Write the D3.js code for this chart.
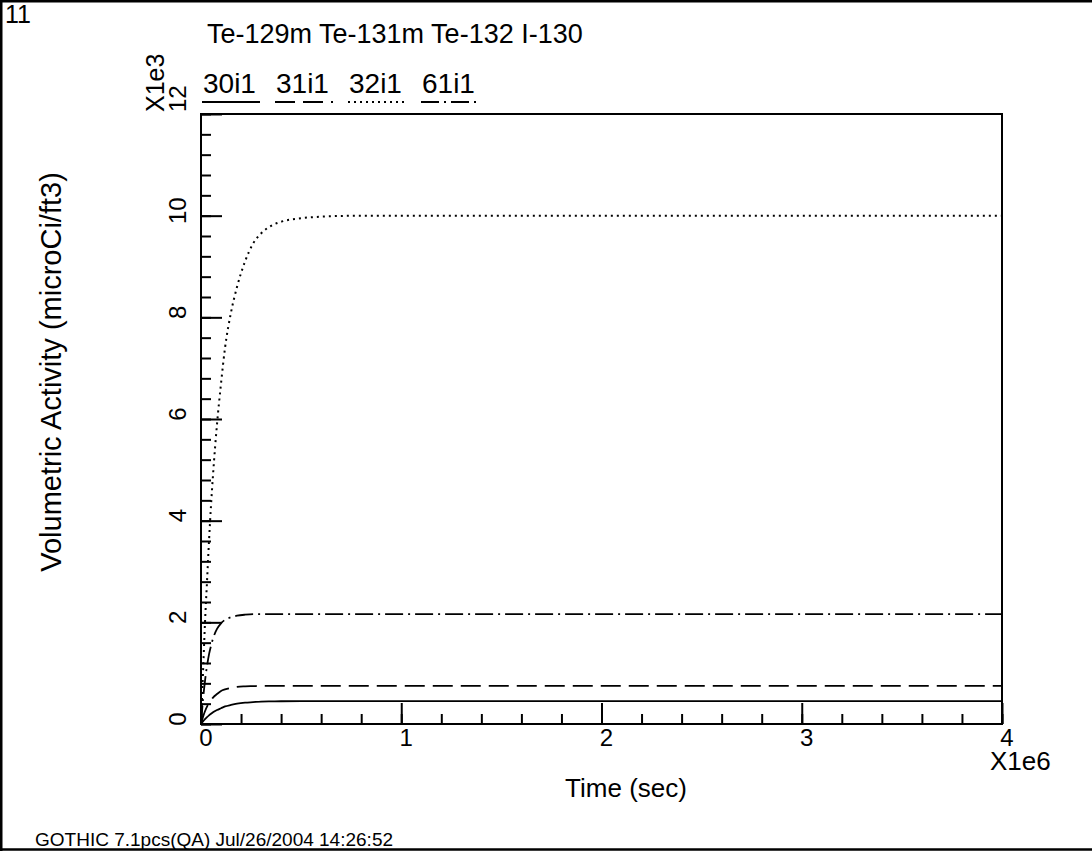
<!DOCTYPE html>
<html>
<head>
<meta charset="utf-8">
<script src="https://cdn.jsdelivr.net/npm/d3@7"></script>
<style>
  html, body { margin: 0; padding: 0; background: #fff; }
  svg { display: block; }
  text { font-family: "Liberation Sans", Arial, sans-serif; fill: #000; }
</style>
</head>
<body>
<svg id="chart" width="1092" height="851"></svg>
<script>
// Time in units of 1e6 s
const timeE6 = [0, 0.01, 0.02, 0.03, 0.04, 0.05, 0.06, 0.08, 0.10, 0.12, 0.15, 0.18,
                0.22, 0.26, 0.30, 0.35, 0.40, 0.50, 0.60, 0.80, 1.0, 2.0, 3.0, 4.0];

// Volumetric activity in units of 1e3 microCi/ft3
const te129m = [0, 0.05, 0.095, 0.135, 0.17, 0.20, 0.23, 0.275, 0.31, 0.345, 0.375, 0.40,
                0.42, 0.43, 0.44, 0.445, 0.448, 0.45, 0.45, 0.45, 0.45, 0.45, 0.45, 0.45];
const te131m = [0, 0.14, 0.25, 0.34, 0.41, 0.47, 0.52, 0.59, 0.65, 0.68, 0.71, 0.73,
                0.74, 0.745, 0.75, 0.75, 0.75, 0.75, 0.75, 0.75, 0.75, 0.75, 0.75, 0.75];
const te132  = [0, 1.0, 2.0, 2.8, 3.6, 4.3, 4.9, 5.9, 6.7, 7.4, 8.1, 8.6,
                9.1, 9.45, 9.65, 9.8, 9.88, 9.95, 9.98, 10.0, 10.0, 10.0, 10.0, 10.0];
const i130   = [0, 0.48, 0.85, 1.14, 1.37, 1.54, 1.68, 1.87, 1.98, 2.05, 2.10, 2.13,
                2.15, 2.16, 2.16, 2.16, 2.16, 2.16, 2.16, 2.16, 2.16, 2.16, 2.16, 2.16];

const seriesNames = ["30i1", "31i1", "32i1", "61i1"];
const seriesTitle = "Te-129m Te-131m Te-132 I-130";

const xMajorTicks = [0, 1, 2, 3, 4];
const yMajorTicks = [0, 2, 4, 6, 8, 10, 12];
const xMinorStep = 0.2;
const yMinorStep = 0.4;

const seriesValues = [te129m, te131m, te132, i130];
const dashStyles = [null, "20,8", "2,4", "18,5,2,5"];

const svg = d3.select("#chart");
const plot = { left: 201, right: 1002, top: 114, bottom: 724 };

const x = d3.scaleLinear().domain([0, 4]).range([plot.left, plot.right]);
const y = d3.scaleLinear().domain([0, 12]).range([plot.bottom, plot.top]);

// page border (left, top, bottom)
svg.append("path")
  .attr("d", "M1.25,851 L1.25,1.25 L1092,1.25 M0,849.5 L1092,849.5")
  .attr("fill", "none").attr("stroke", "#000").attr("stroke-width", 2.5);

function text(x0, y0, s, size, opts = {}) {
  const t = svg.append("text")
    .attr("x", x0).attr("y", y0)
    .attr("font-size", size)
    .attr("text-anchor", opts.anchor || "start")
    .text(s);
  if (opts.rotate) t.attr("transform", `rotate(-90,${x0},${y0})`);
  return t;
}

text(5, 23, "11", 25);
text(207, 43, seriesTitle, 27);

// minor and major ticks, pointing into the plot
const xMinor = d3.range(0, 4 + 1e-9, xMinorStep);
const yMinor = d3.range(0, 12 + 1e-9, yMinorStep);

const gx = svg.append("g").attr("transform", `translate(0,${plot.bottom})`);
gx.call(d3.axisBottom(x).tickValues(xMinor).tickSize(-10).tickFormat(""));
gx.call(g => g.selectAll(".domain").remove());
const gx2 = svg.append("g").attr("transform", `translate(0,${plot.bottom})`);
gx2.call(d3.axisBottom(x).tickValues(xMajorTicks).tickSize(-21).tickFormat(""));
gx2.call(g => g.selectAll(".domain").remove());

const gy = svg.append("g").attr("transform", `translate(${plot.left},0)`);
gy.call(d3.axisLeft(y).tickValues(yMinor).tickSize(-10).tickFormat(""));
gy.call(g => g.selectAll(".domain").remove());
const gy2 = svg.append("g").attr("transform", `translate(${plot.left},0)`);
gy2.call(d3.axisLeft(y).tickValues(yMajorTicks).tickSize(-21).tickFormat(""));
gy2.call(g => g.selectAll(".domain").remove());

svg.selectAll(".tick line").attr("stroke", "#000").attr("stroke-width", 2);

// frame
svg.append("rect")
  .attr("x", plot.left).attr("y", plot.top)
  .attr("width", plot.right - plot.left).attr("height", plot.bottom - plot.top)
  .attr("fill", "none").attr("stroke", "#000").attr("stroke-width", 2);

// tick labels
xMajorTicks.forEach(v => text(x(v) + 5, 746, String(v), 24, { anchor: "middle" }));
yMajorTicks.forEach(v => {
  if (v === 12) text(186, y(v) - 2, String(v), 24, { rotate: true, anchor: "start" });
  else text(186, y(v) - 5, String(v), 24, { rotate: true, anchor: "middle" });
});
text(164, 112, "X1e3", 25, { rotate: true, anchor: "start" });
text(990, 770, "X1e6", 26);

// axis titles
text(626, 797, "Time (sec)", 26, { anchor: "middle" });
text(61, 372, "Volumetric Activity (microCi/ft3)", 29, { rotate: true, anchor: "middle" });

text(35, 846, "GOTHIC 7.1pcs(QA) Jul/26/2004 14:26:52", 19);

// curves
const line = d3.line()
  .x(d => x(d[0]))
  .y(d => y(d[1]))
  .curve(d3.curveMonotoneX);

seriesValues.forEach((vals, i) => {
  const pts = timeE6.map((t, k) => [t, vals[k]]);
  const p = svg.append("path")
    .datum(pts)
    .attr("d", line)
    .attr("fill", "none")
    .attr("stroke", "#000")
    .attr("stroke-width", i === 2 ? 2 : 1.8);
  if (dashStyles[i]) p.attr("stroke-dasharray", dashStyles[i]);
});

// legend
const legendX = [202, 275, 348, 421];
seriesNames.forEach((name, i) => {
  text(legendX[i] + 1, 93, name, 28);
  const l = svg.append("line")
    .attr("x1", legendX[i]).attr("x2", legendX[i] + 58)
    .attr("y1", 102).attr("y2", 102)
    .attr("stroke", "#000").attr("stroke-width", i === 2 ? 2 : 1.8);
  if (dashStyles[i]) l.attr("stroke-dasharray", dashStyles[i]);
});
</script>
</body>
</html>
